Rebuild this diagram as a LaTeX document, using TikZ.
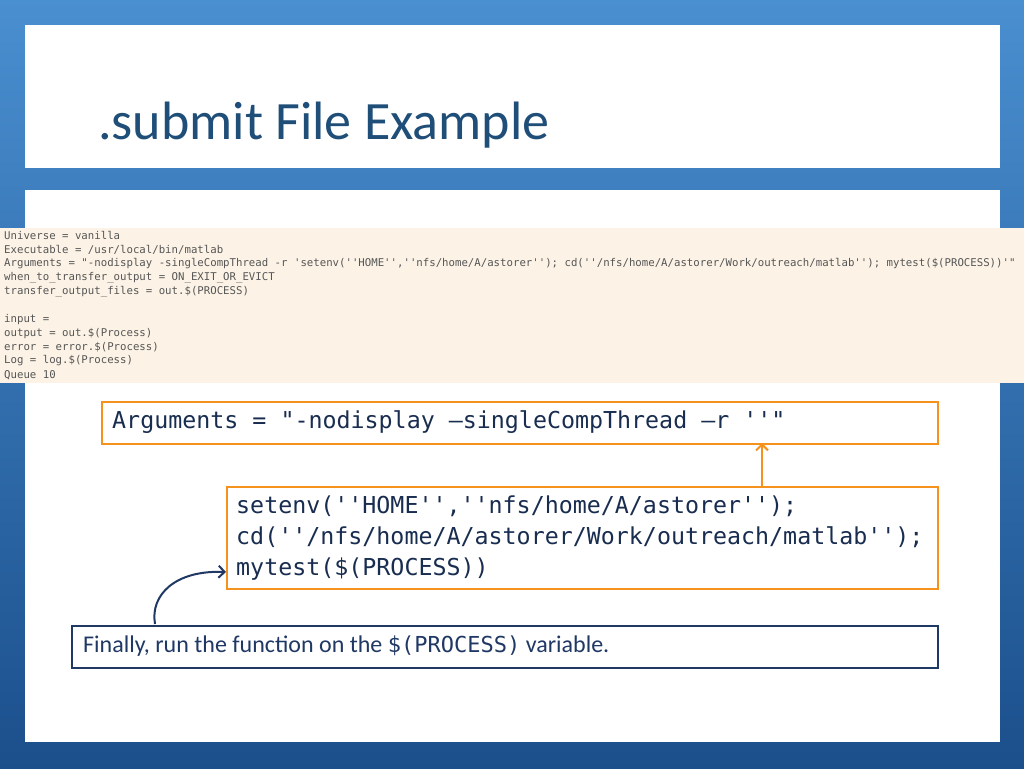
\documentclass[tikz,border=0pt]{standalone}
\usepackage{fontspec}
\setmainfont{Carlito}
\newfontfamily\codefont{DejaVu Sans Mono}
\usetikzlibrary{arrows.meta}
\definecolor{bgdark}{HTML}{1B4F8C}
\definecolor{bglight}{HTML}{4A8FD0}
\definecolor{titleblue}{HTML}{1F4E79}
\definecolor{orng}{HTML}{F5921E}
\definecolor{navy}{HTML}{1F3864}
\definecolor{codebg}{HTML}{FCF3E6}
\definecolor{codegray}{HTML}{555555}
\tikzset{
 panel/.style={fill=white,draw=none},
 obox/.style={draw=orng,line width=2pt,fill=white,inner sep=0pt},
 nbox/.style={draw=navy,line width=2pt,fill=white,inner sep=0pt},
 codeline/.style={anchor=west,inner sep=0pt,font=\codefont\fontsize{10.7}{12}\selectfont,text=codegray},
 bigcode/.style={anchor=west,inner sep=0pt,font=\codefont\fontsize{23.3}{26}\selectfont,text=navy!80!black},
}
\begin{document}
\begin{tikzpicture}[x=1pt,y=-1pt]
\useasboundingbox (0,0) rectangle (1024,768);
\shade[top color=bglight,bottom color=bgdark] (0,0) rectangle (1024,768);
\fill[panel] (25,25) rectangle (1000,168);
\fill[panel] (25,190) rectangle (1000,742);
\node[anchor=west,inner sep=0pt,text=titleblue,font=\fontsize{54}{60}\selectfont] (title) at (98,125) {.submit File Example};
\fill[codebg] (0,228) rectangle (1024,383);
\foreach \t [count=\i] in {Universe = vanilla,
 Executable = /usr/local/bin/matlab,
 {Arguments = "-nodisplay -singleCompThread -r 'setenv(''HOME'',''nfs/home/A/astorer''); cd(''/nfs/home/A/astorer/Work/outreach/matlab''); mytest(\$(PROCESS))'"},
 when\_to\_transfer\_output = ON\_EXIT\_OR\_EVICT,
 transfer\_output\_files = out.\$(PROCESS),
 {},
 input =,
 output = out.\$(Process),
 error = error.\$(Process),
 Log = log.\$(Process),
 Queue 10}
 \node[codeline] (c\i) at (4,222+13.9*\i) {\t};
\node[obox,minimum width=836pt,minimum height=42pt,anchor=north west] (b1) at (101,401) {};
\node[bigcode] (t1) at (112,422) {Arguments = "-nodisplay –singleCompThread –r ''"};
\node[obox,minimum width=711pt,minimum height=102pt,anchor=north west] (b2) at (226,486) {};
\node[bigcode,align=left,font=\codefont\fontsize{23.3}{31}\selectfont] (t2) at (236,538) {setenv(''HOME'',''nfs/home/A/astorer'');\\cd(''/nfs/home/A/astorer/Work/outreach/matlab'');\\mytest(\$(PROCESS))};
\node[nbox,minimum width=866pt,minimum height=42pt,anchor=north west] (b3) at (71,625) {};
\node[anchor=west,inner sep=0pt,text=navy,font=\fontsize{24}{28}\selectfont] (t3) at (83,646) {Finally, run the function on the {\codefont\fontsize{22}{26}\selectfont \$(PROCESS)} variable.};
\coordinate (a1) at (762,486);
\coordinate (a1e) at (762,443);
\draw[orng,line width=2pt,-{Straight Barb[length=6pt]}] (a1) -- (a1e);
\coordinate (a2) at (155,624);
\coordinate (a2e) at (226,572);
\draw[navy,line width=2pt,-{Straight Barb[length=6pt]}] (a2) .. controls (150,595) and (175,570) .. (a2e);
\end{tikzpicture}
\end{document}
